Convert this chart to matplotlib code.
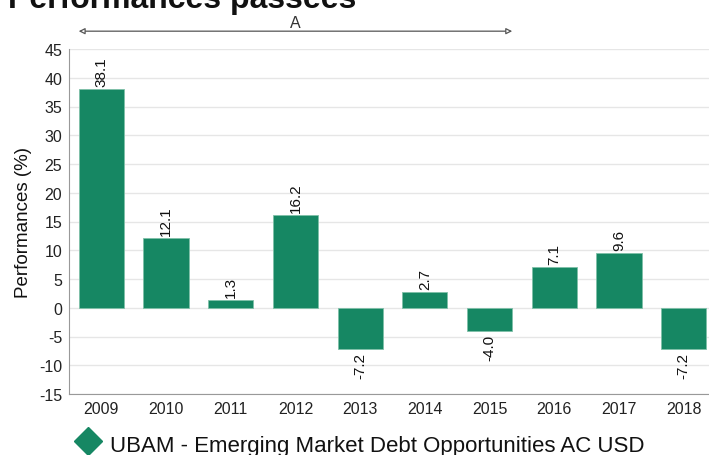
import matplotlib
matplotlib.use("Agg")
import matplotlib.pyplot as plt
from matplotlib.lines import Line2D

years = ["2009", "2010", "2011", "2012", "2013", "2014", "2015", "2016", "2017", "2018"]
values = [38.1, 12.1, 1.3, 16.2, -7.2, 2.7, -4.0, 7.1, 9.6, -7.2]
yticks = [45, 40, 35, 30, 25, 20, 15, 10, 5, 0, -5, -10, -15]
series_name = "UBAM - Emerging Market Debt Opportunities AC USD"
title = "Performances passées"
period_label = "A"

plt.rcParams['font.family'] = ['Liberation Sans', 'DejaVu Sans']

W, H = 709, 456
fig = plt.figure(figsize=(W / 100, H / 100), dpi=100)
ax = fig.add_axes([69 / W, 1 - 395 / H, (716 - 69) / W, (395 - 50) / H])

color = "#168763"
x = list(range(len(years)))
ax.bar(x, values, width=0.7, color=color, edgecolor="#7fc0a8", linewidth=0.6, zorder=3)

ax.set_xlim(-0.5, len(years) - 0.5)
ax.set_ylim(-15, 45)
ax.set_yticks(yticks)
ax.set_yticklabels([str(t) for t in yticks], fontsize=11.5, color="#222222")
ax.set_xticks(x)
ax.set_xticklabels(years, fontsize=11.5, color="#222222")
ax.tick_params(axis='both', length=0, pad=5)
ax.grid(axis='y', color="#e6e6e6", linewidth=1, zorder=0)
for s in ["top", "right"]:
    ax.spines[s].set_visible(False)
for s in ["left", "bottom"]:
    ax.spines[s].set_color("#999999")
    ax.spines[s].set_linewidth(0.8)
ax.set_ylabel("Performances (%)", fontsize=13.5, color="#111111", labelpad=5)

for xi, v in zip(x, values):
    if v >= 0:
        ax.annotate(f"{v:.1f}", (xi, v), xytext=(0, 2), textcoords="offset points",
                    rotation=90, ha="center", va="bottom", fontsize=11, color="#111111")
    else:
        ax.annotate(f"{v:.1f}", (xi, v), xytext=(0, -2), textcoords="offset points",
                    rotation=90, ha="center", va="top", fontsize=11, color="#111111")

# period arrow
ax.annotate("", xy=(-0.35, 48.1), xytext=(6.35, 48.1), xycoords="data",
            arrowprops=dict(arrowstyle="<|-|>", color="#555555", lw=0.9,
                            fc="white", mutation_scale=9, shrinkA=0, shrinkB=0),
            annotation_clip=False)
ax.text(3.0, 48.9, period_label, ha="center", va="baseline", fontsize=11.5, color="#333333", clip_on=False)

fig.text(8 / W, 1 - 8 / H, title, fontsize=23, fontweight="bold", ha="left", va="baseline", color="#111111")

# legend
fig.text(110 / W, 1 - 452 / H, series_name, fontsize=16, ha="left", va="baseline", color="#111111")
fig.lines.append(Line2D([88 / W], [1 - 442 / H], marker="D", markersize=14,
                        color=color, transform=fig.transFigure))

fig.savefig("out.png", dpi=100)
